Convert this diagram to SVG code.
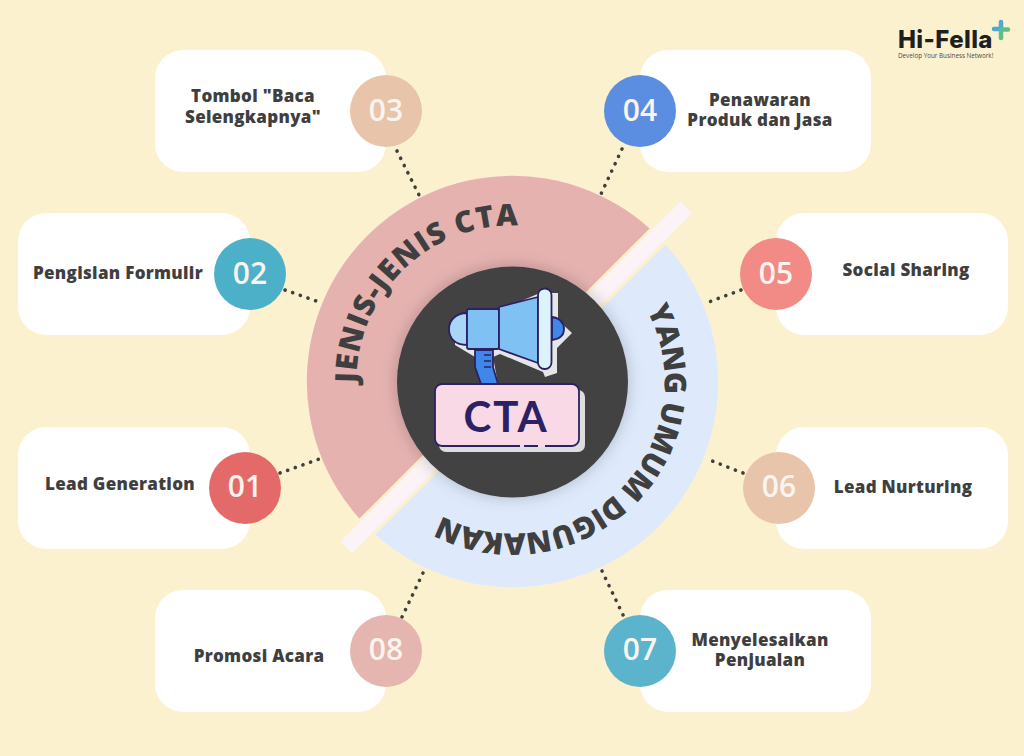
<svg xmlns="http://www.w3.org/2000/svg" width="1024" height="756" viewBox="0 0 1024 756">
<style>
.box{fill:#fff}
.lab{font-family:"Open Sans","Liberation Sans",sans-serif;font-weight:800;font-size:17px;fill:#3f3f3f;text-anchor:middle;letter-spacing:.3px}
.num{font-family:"Open Sans","Liberation Sans",sans-serif;font-weight:600;font-size:30px;fill:#f9f4ee;text-anchor:middle}
.dot{fill:none;stroke:#3f3f3f;stroke-width:3.6;stroke-linecap:round;stroke-dasharray:.1 8}
.arc{font-family:"Open Sans","Liberation Sans",sans-serif;font-weight:800;font-size:30px;fill:#3f3f3f}
.ink{stroke:#2b2165;stroke-width:1.8;stroke-linejoin:round}
</style>
<defs>
<filter id="soft" x="-30%" y="-30%" width="160%" height="160%"><feDropShadow dx="0" dy="0" stdDeviation="8" flood-color="#000" flood-opacity=".22"/></filter>
<path id="arcA" d="M356.500,383 A156,156 0 0 1 540,227.900"/>
<path id="arcB" d="M646.700,310.100 A152,152 0 0 1 425.300,506"/>
</defs>
<rect id="background" width="1024" height="756" fill="#fcf1cf"/>
<g id="connectors">
<path class="dot" d="M397,151 L420,197"/>
<path class="dot" d="M622,149 L601,194"/>
<path class="dot" d="M285,290 L322,303"/>
<path class="dot" d="M741,290 L706,303"/>
<path class="dot" d="M280,473 L322,458"/>
<path class="dot" d="M743,473 L707,459"/>
<path class="dot" d="M423,573 L402,617"/>
<path class="dot" d="M602,571 L624,617"/>
</g>
<g id="node-03"><rect class="box" x="155" y="50" width="231" height="122" rx="28"/><circle cx="386" cy="111" r="36" fill="#e8c4ab"/><text class="num" x="386" y="121">03</text><text class="lab" x="253" y="102">Tombol "Baca</text><text class="lab" x="253" y="123">Selengkapnya"</text></g>
<g id="node-04"><rect class="box" x="640" y="50" width="231" height="122" rx="28"/><circle cx="640" cy="111" r="36" fill="#5b8de0"/><text class="num" x="640" y="121">04</text><text class="lab" x="760" y="106">Penawaran</text><text class="lab" x="760" y="126">Produk dan Jasa</text></g>
<g id="node-02"><rect class="box" x="18" y="213" width="232" height="122" rx="28"/><circle cx="250" cy="274" r="36" fill="#4db0c9"/><text class="num" x="250" y="284">02</text><text class="lab" x="118" y="279">Pengisian Formulir</text></g>
<g id="node-05"><rect class="box" x="776" y="213" width="232" height="122" rx="28"/><circle cx="776" cy="274" r="36" fill="#f28a85"/><text class="num" x="776" y="284">05</text><text class="lab" x="906" y="276">Social Sharing</text></g>
<g id="node-01"><rect class="box" x="18" y="427" width="232" height="122" rx="28"/><circle cx="245" cy="488" r="36" fill="#e46a6a"/><text class="num" x="245" y="497">01</text><text class="lab" x="120" y="490">Lead Generation</text></g>
<g id="node-06"><rect class="box" x="776" y="427" width="232" height="122" rx="28"/><circle cx="779" cy="488" r="36" fill="#e8c4ab"/><text class="num" x="779" y="497">06</text><text class="lab" x="903" y="493">Lead Nurturing</text></g>
<g id="node-08"><rect class="box" x="155" y="590" width="231" height="122" rx="28"/><circle cx="386" cy="651" r="36" fill="#e5b5b0"/><text class="num" x="386" y="660">08</text><text class="lab" x="259" y="662">Promosi Acara</text></g>
<g id="node-07"><rect class="box" x="640" y="590" width="231" height="122" rx="28"/><circle cx="640" cy="651" r="36" fill="#5bb4cb"/><text class="num" x="640" y="660">07</text><text class="lab" x="760" y="646">Menyelesaikan</text><text class="lab" x="760" y="666">Penjualan</text></g>
<g id="hub">
<path d="M649.600,228.400 A205.500,205.500 0 0 0 359.400,518.600 Z" fill="#e5b2b0"/>
<path d="M665.600,244.400 A205.500,205.500 0 0 1 375.400,534.600 Z" fill="#deeafc"/>
<path d="M686,207.500 L346,547.500" stroke="#fbf3f7" stroke-width="16" fill="none"/>
<text class="arc"><textPath href="#arcA" textLength="252" lengthAdjust="spacing">JENIS-JENIS CTA</textPath></text>
<text class="arc"><textPath href="#arcB" textLength="387" lengthAdjust="spacing">YANG UMUM DIGUNAKAN</textPath></text>
<circle cx="512.500" cy="382" r="115.500" fill="#424242" filter="url(#soft)"/>
</g>
<g id="icon">
<path d="M540,293 L558,293 L558,320 L572,333 L557,348 L557,373 L545,377 L543,372 L500,354 L493,357 L498,384 L480,360 L455,345 L455,335 L500,310 Z" fill="#e6e6e6"/>
<path d="M475,350 L493,350 L493,367 L498,384 L481,384 L475,367 Z" fill="#3f87e8" class="ink"/>
<path d="M484,355 H491 M484,361 H491 M484,367 H491" stroke="#2b2165" stroke-width="1.500" fill="none"/>
<path d="M552,317 C560,318 564,323 564,329 C564,335 560,339 552,340 Z" fill="#3f87e8" class="ink"/>
<path d="M467,313 C455,313 449,321 449,329 C449,338 455,345 467,345 Z" fill="#a9d6f7" class="ink"/>
<rect x="467" y="309" width="32" height="40" rx="2" fill="#7fc1f3" class="ink"/>
<path d="M499,307 L538,297 L538,363 L499,349 Z" fill="#7fc1f3" class="ink"/>
<rect x="538" y="288.500" width="13.500" height="80.500" rx="6.500" fill="#dcf3fe" class="ink"/>
<rect x="439" y="390" width="146" height="62" rx="7" fill="#dedede"/>
<rect x="435" y="384" width="144" height="62" rx="7" fill="#f8d9e5" class="ink"/>
<path d="M520,446 h4 M538,446 h7" stroke="#f8d9e5" stroke-width="2.500"/>
<text x="506" y="432" font-family="Lato,'Open Sans',sans-serif" font-weight="700" font-size="42" fill="#2b2165" text-anchor="middle" letter-spacing="2">CTA</text>
</g>
<g id="logo">
<text x="898" y="47.500" font-family="Inter,'Open Sans',sans-serif" font-weight="800" font-size="24" fill="#1f1f1f" letter-spacing=".4">Hi-Fella</text>
<text x="898" y="58" font-family="'Open Sans',sans-serif" font-size="6.300" fill="#4a4a4a">Develop Your Business Network!</text>
<path d="M1001,22 V29.500 M994,29 H1001" stroke="#4ba8d8" stroke-width="4.500" stroke-linecap="round"/>
<path d="M1001,30 V38 M1001,29.500 H1008" stroke="#5dbe8a" stroke-width="4.500" stroke-linecap="round"/>
</g>
</svg>
